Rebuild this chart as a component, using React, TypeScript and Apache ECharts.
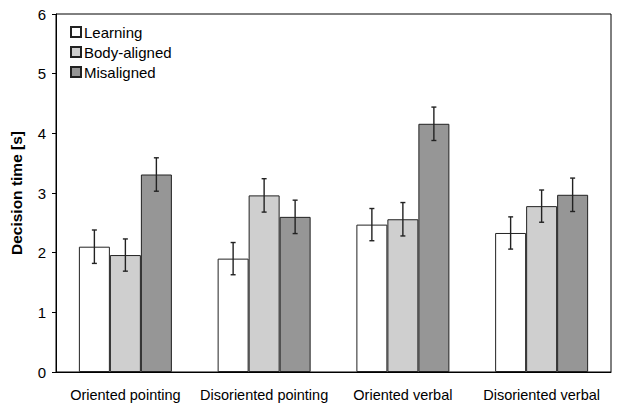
import React, { useEffect, useRef } from "react";
import * as echarts from "echarts";

const categories = ["Oriented pointing", "Disoriented pointing", "Oriented verbal", "Disoriented verbal"];
const seriesNames = ["Learning", "Body-aligned", "Misaligned"];
const learning = [2.1, 1.9, 2.47, 2.33];
const bodyAligned = [1.96, 2.96, 2.56, 2.78];
const misaligned = [3.31, 2.6, 4.16, 2.97];
const learningErr = [0.28, 0.27, 0.27, 0.27];
const bodyAlignedErr = [0.27, 0.28, 0.28, 0.27];
const misalignedErr = [0.28, 0.28, 0.28, 0.28];
const yTicks = [0, 1, 2, 3, 4, 5, 6];

const colors = ["#ffffff", "#cfcfcf", "#969696"];
const FONT = "'Liberation Sans', Arial, Helvetica, sans-serif";
const BAR_W = 31;

export default function App() {
  const ref = useRef<HTMLDivElement>(null);
  useEffect(() => {
    if (!ref.current) return;
    const chart = echarts.init(ref.current, undefined, { renderer: "svg" });
    const values = [learning, bodyAligned, misaligned];
    const errs = [learningErr, bodyAlignedErr, misalignedErr];
    const errData: number[][] = [];
    values.forEach((vals, s) => {
      vals.forEach((v, c) => {
        errData.push([c, s, v - errs[s][c], v + errs[s][c]]);
      });
    });
    chart.setOption({
      animation: false,
      textStyle: { fontFamily: FONT },
      grid: {
        left: 50,
        right: 8,
        top: 14,
        bottom: 37,
        show: true,
        borderColor: "#000",
        borderWidth: 1,
        backgroundColor: "transparent",
      },
      legend: {
        data: seriesNames,
        orient: "vertical",
        left: 70,
        top: 24,
        padding: 0,
        itemWidth: 10,
        itemHeight: 10,
        itemGap: 4,
        icon: "rect",
        textStyle: { fontFamily: FONT, fontSize: 15, color: "#000", padding: [0, 0, 0, -2], lineHeight: 16 },
      },
      xAxis: {
        type: "category",
        data: categories,
        axisLine: { show: true, lineStyle: { color: "#000", width: 1 } },
        axisTick: { show: false },
        axisLabel: { fontFamily: FONT, fontSize: 14.5, color: "#000", margin: 15, interval: 0 },
        splitLine: { show: false },
      },
      yAxis: {
        type: "value",
        min: 0,
        max: 6,
        interval: 1,
        name: "Decision time [s]",
        nameLocation: "middle",
        nameGap: 32,
        nameTextStyle: { fontFamily: FONT, fontSize: 15.5, fontWeight: "bold", color: "#000" },
        axisLine: { show: true, lineStyle: { color: "#000", width: 1 } },
        axisTick: { show: true, length: 4, lineStyle: { color: "#000" } },
        axisLabel: {
          fontFamily: FONT,
          fontSize: 15,
          color: "#000",
          margin: 10,
          formatter: (v: number) => (yTicks.includes(v) ? String(v) : ""),
        },
        splitLine: { show: false },
      },
      series: [
        ...seriesNames.map((name, s) => ({
          name,
          type: "bar",
          data: values[s],
          barWidth: BAR_W,
          barGap: "0%",
          itemStyle: { color: colors[s], borderColor: "#222", borderWidth: 1 },
        })),
        {
          type: "custom",
          name: "err",
          data: errData,
          z: 10,
          renderItem: (params: any, api: any) => {
            const c = api.value(0);
            const s = api.value(1);
            const lo = api.coord([c, api.value(2)]);
            const hi = api.coord([c, api.value(3)]);
            const x = lo[0] + (s - 1) * BAR_W;
            const cap = 2.5;
            const style = { stroke: "#222", lineWidth: 1.4 };
            return {
              type: "group",
              children: [
                { type: "line", shape: { x1: x, y1: lo[1], x2: x, y2: hi[1] }, style },
                { type: "line", shape: { x1: x - cap, y1: lo[1], x2: x + cap, y2: lo[1] }, style },
                { type: "line", shape: { x1: x - cap, y1: hi[1], x2: x + cap, y2: hi[1] }, style },
              ],
            };
          },
        },
      ],
    });
    return () => chart.dispose();
  }, []);
  return <div ref={ref} style={{ width: 619, height: 409, position: "absolute", left: 0, top: 0, background: "#fff" }} />;
}
